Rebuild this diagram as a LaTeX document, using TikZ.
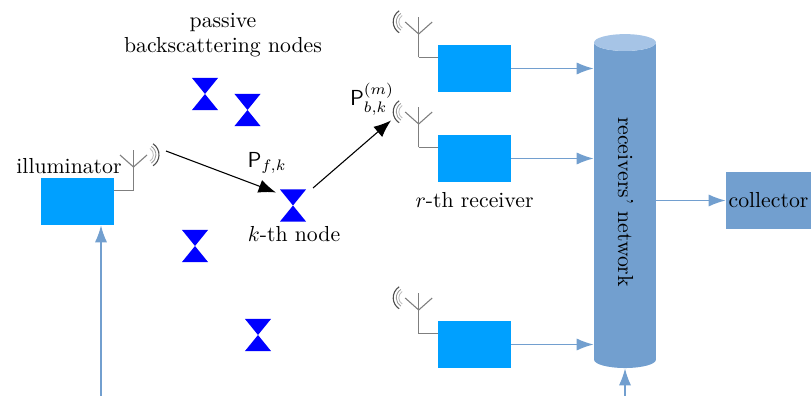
\documentclass[tikz,border=0pt]{standalone}
\usepackage{tikz}
\usetikzlibrary{arrows.meta,positioning,calc,shapes.geometric}

\definecolor{boxblue}{HTML}{00A0FF}
\definecolor{netblue}{HTML}{729FCF}
\definecolor{nettop}{HTML}{A6C4E6}
\definecolor{feedgray}{HTML}{7F7F7F}

\tikzset{
    radio/.style={fill=boxblue,minimum width=33.6pt,minimum height=21.6pt,inner sep=0},
    tag/.style={minimum width=12pt,minimum height=14.8pt,inner sep=0,
        path picture={\fill[blue] (path picture bounding box.north west) -- (path picture bounding box.south east)
            -- (path picture bounding box.south west) -- (path picture bounding box.north east) -- cycle;}},
    feed/.style={draw=feedgray,line width=.5pt},
    link/.style={draw=netblue,line width=.6pt,-{Latex[length=7.8pt,width=5.6pt]}},
    ray/.style={draw=black,line width=.5pt,-{Latex[length=8pt,width=6.2pt]}},
    pics/antenna/.style={code={
        \draw[feed] (0,0) -- (0,-40.5);
        \draw[feed] (-13.5,-35.5) -- (0,-23.5) -- (13.5,-35.5);
        \draw[black!70,line width=.5pt] (12.4,-35.7) ++(-57:13.1) arc[start angle=-57,end angle=57,radius=13.1];
        \draw[black!40,line width=.4pt] (12.4,-35.7) ++(-57:10) arc[start angle=-57,end angle=57,radius=10];
        \draw[black!25,line width=.4pt] (12.4,-35.7) ++(-57:7.5) arc[start angle=-57,end angle=57,radius=7.5];
    }}
}

\begin{document}
\begin{tikzpicture}[x=.46pt,y=-.46pt]
    \useasboundingbox (0,0) rectangle (811,396);
    \begin{scope} % Illuminator and its antenna
        \node[radio] (tx) at (77.5,201.5) {};
        \coordinate (txa) at (133.5,190.5);
        \pic at (txa) {antenna};
        \draw[feed] (txa) -- (txa -| tx.east);
        \node (txlabel) at (69,166) {illuminator};
        \coordinate (txin) at (101,396);
        \draw[link] (txin) -- (txin |- tx.south);
    \end{scope}
    \begin{scope} % Backscattering nodes
        \node[tag] (n1) at (205,94) {};
        \node[tag] (n2) at (247.5,110) {};
        \node[tag] (n3) at (195,246) {};
        \node[tag] (n4) at (258,335) {};
        \node[tag] (k) at (293,205.5) {};
        \node[align=center] (tags) at (223,35) {passive\\[-.5pt]backscattering nodes};
        \node (klabel) at (294,234) {$k$-th node};
    \end{scope}
    \begin{scope} % Receivers
        \foreach \i/\y in {1/68.5, 2/158.5, 3/344.5} {
            \node[radio] (rx\i) at (474.5,\y) {};
            \coordinate (rxa\i) at (418.7,\y-11);
            \pic[xscale=-1] at (rxa\i) {antenna};
            \draw[feed] (rxa\i) -- (rxa\i -| rx\i.west);
        }
        \node (rxlabel) at (474.5,200) {$r$-th receiver};
    \end{scope}
    \begin{scope} % Network and collector
        \node[cylinder,cylinder uses custom fill,cylinder end fill=nettop,cylinder body fill=netblue,
            shape border rotate=180,rotate=-90,aspect=1.1,minimum width=28.5pt,minimum height=153.6pt,inner sep=0] (net)
            at (625,205.5) {\phantom{receivers' network}};
        \node[rotate=-90] (netlabel) at (625.5,202) {receivers' network};
        \node[fill=netblue,minimum width=39.1pt,minimum height=26.2pt,inner sep=0] (sink) at (768.5,200.5) {collector};
        \foreach \i in {1,2,3} \draw[link] (rx\i.east) -- (rx\i.east -| net.south);
        \draw[link] (net.north |- sink.west) -- (sink.west);
        \coordinate (netin) at (625,396);
        \draw[link] (netin) -- (netin |- net.bottom);
    \end{scope}
    % Forward and backscattered rays
    \coordinate (rayA) at (166,151);
    \coordinate (rayB) at (276,192.5);
    \coordinate (rayC) at (313,188);
    \coordinate (rayD) at (391,120.5);
    \draw[ray] (rayA) -- (rayB);
    \draw[ray] (rayC) -- (rayD);
    \node (pf) at (267,163) {$\mathsf{P}_{f,k}$};
    \node (pb) at (372,99) {$\mathsf{P}_{b,k}^{(m)}$};
\end{tikzpicture}
\end{document}
